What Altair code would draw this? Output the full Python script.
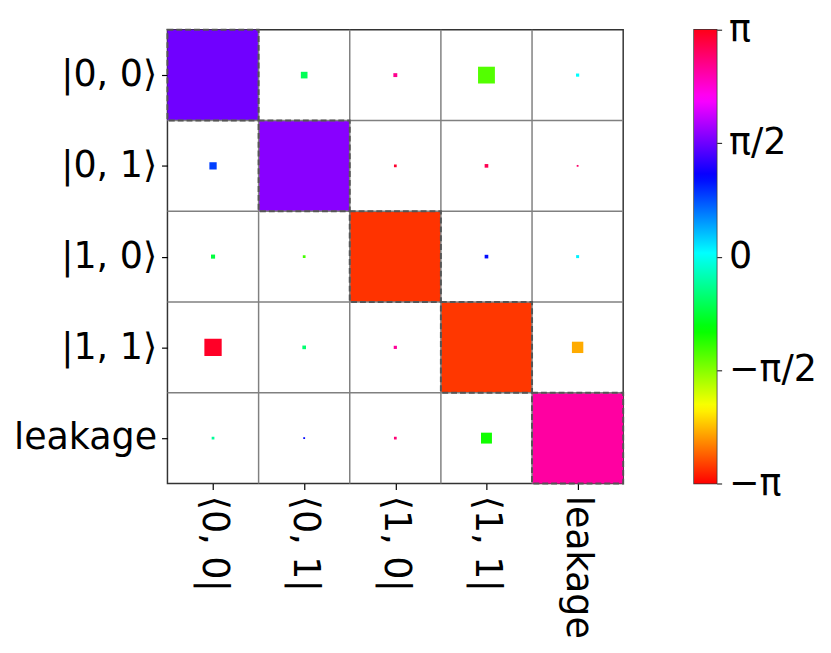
import math
import altair as alt
import pandas as pd

# ---- data ----
row_labels = ["|0, 0⟩", "|0, 1⟩", "|1, 0⟩", "|1, 1⟩", "leakage"]
col_labels = ["⟨0, 0|", "⟨0, 1|", "⟨1, 0|", "⟨1, 1|", "leakage"]

# relative square side (fraction of a cell)
magnitude = [
    [1.00, 0.073, 0.043, 0.185, 0.035],
    [0.080, 1.00, 0.030, 0.040, 0.020],
    [0.045, 0.030, 1.00, 0.040, 0.033],
    [0.190, 0.040, 0.035, 1.00, 0.125],
    [0.030, 0.020, 0.030, 0.120, 1.00],
]
# phase in radians
phase = [
    [1.58, -0.66, 2.65, -1.36, 0.05],
    [0.85, 1.68, 3.05, 2.90, 2.80],
    [-0.75, -1.30, -2.93, 1.07, 0.10],
    [3.08, -0.55, 2.60, -2.91, -2.43],
    [-0.37, 1.10, 2.75, -1.08, 2.57],
]

# matplotlib "hsv" colormap stops
hsv_pos = [0.0, 0.158730, 0.174603, 0.333333, 0.349206, 0.507937,
           0.666667, 0.682540, 0.841270, 0.857143, 1.0]
hsv_col = ["#ff0000", "#ffef00", "#f7ff00", "#08ff00", "#00ff10", "#00ffff",
           "#0010ff", "#0800ff", "#f700ff", "#ff00ef", "#ff0018"]
cbar_ticks = [-math.pi, -math.pi / 2, 0.0, math.pi / 2, math.pi]
grid_pos = [1, 2, 3, 4]

recs = []
for i in range(5):
    for j in range(5):
        recs.append({"row": i, "col": j, "s": magnitude[i][j], "phase": phase[i][j]})
df = pd.DataFrame(recs)
diag = pd.DataFrame({"k": list(range(5))})
grid = pd.DataFrame({"v": grid_pos})
cbar = pd.DataFrame({"lo": [-math.pi], "hi": [math.pi]})

FONT = "DejaVu Sans"
FS = 37
col_js = "[" + ",".join("'" + c + "'" for c in col_labels) + "]"
row_js = "[" + ",".join("'" + r + "'" for r in row_labels) + "]"

xscale = alt.Scale(domain=[0, 5], nice=False, zero=False)
yscale = alt.Scale(domain=[0, 5], nice=False, zero=False, reverse=True)
cscale = alt.Scale(domain=[-math.pi + 2 * math.pi * p for p in hsv_pos],
                   range=hsv_col, interpolate="rgb")

xaxis = alt.Axis(values=[0.5, 1.5, 2.5, 3.5, 4.5],
                 labelExpr=col_js + "[floor(datum.value)]",
                 labelAngle=90, labelFontSize=FS, labelFont=FONT, labelColor="black",
                 tickSize=6, tickColor="black", tickWidth=1.2, labelPadding=6,
                 labelFlush=False, domain=False, grid=False, title=None)
yaxis = alt.Axis(values=[0.5, 1.5, 2.5, 3.5, 4.5],
                 labelExpr=row_js + "[floor(datum.value)]",
                 labelFontSize=FS, labelFont=FONT, labelColor="black",
                 tickSize=6, tickColor="black", tickWidth=1.2, labelPadding=5,
                 labelFlush=False, domain=False, grid=False, title=None)

squares = alt.Chart(df).transform_calculate(
    x0="datum.col + 0.5 - datum.s / 2",
    x1="datum.col + 0.5 + datum.s / 2",
    y0="datum.row + 0.5 - datum.s / 2",
    y1="datum.row + 0.5 + datum.s / 2",
).mark_rect(strokeWidth=0).encode(
    x=alt.X("x0:Q", scale=xscale, axis=xaxis),
    x2="x1:Q",
    y=alt.Y("y0:Q", scale=yscale, axis=yaxis),
    y2="y1:Q",
    color=alt.Color("phase:Q", scale=cscale, legend=None),
)

vlines = alt.Chart(grid).mark_rule(color="#808080", strokeWidth=1.5).encode(
    x=alt.X("v:Q", scale=xscale, axis=xaxis))
hlines = alt.Chart(grid).mark_rule(color="#808080", strokeWidth=1.5).encode(
    y=alt.Y("v:Q", scale=yscale, axis=yaxis))

outlines = alt.Chart(diag).transform_calculate(
    a="datum.k", b="datum.k + 1"
).mark_rect(fillOpacity=0, stroke="#555555", strokeWidth=2,
            strokeDash=[6, 3]).encode(
    x=alt.X("a:Q", scale=xscale, axis=xaxis), x2="b:Q",
    y=alt.Y("a:Q", scale=yscale, axis=yaxis), y2="b:Q",
)

main = alt.layer(squares, vlines, hlines, outlines).properties(width=463, height=461)

# colorbar (matplotlib hsv gradient)
grad = alt.LinearGradient(
    gradient="linear",
    stops=[alt.GradientStop(offset=p, color=c) for p, c in zip(hsv_pos, hsv_col)],
    x1=0, x2=0, y1=1, y2=0,
)
cbar_axis = alt.Axis(
    orient="right", values=cbar_ticks,
    labelExpr="datum.value < -3 ? '−π' : datum.value < -1 ? '−π/2' : (datum.value < 1 ? '0' : (datum.value < 3 ? 'π/2' : 'π'))",
    labelFontSize=FS, labelFont=FONT, labelColor="black", labelFlush=False,
    labelOverlap=False, labelBaseline="middle",
    tickSize=5, tickColor="#333333", tickWidth=1.2, labelPadding=7,
    domain=False, grid=False, title=None,
)
colorbar = alt.Chart(cbar).mark_rect(fill=grad, strokeWidth=0).encode(
    y=alt.Y("lo:Q", scale=alt.Scale(domain=[-math.pi, math.pi], nice=False, zero=False),
            axis=cbar_axis),
    y2="hi:Q",
    x=alt.value(0), x2=alt.value(23),
).properties(width=23, height=461)

chart = alt.hconcat(main, colorbar, spacing=69).properties(
    background="white",
    padding={"left": 4, "top": -3, "right": 5, "bottom": 0},
).configure_view(stroke="#333333", strokeWidth=1.5)

chart.save("out.html", embed_options={"renderer": "svg", "actions": False})
